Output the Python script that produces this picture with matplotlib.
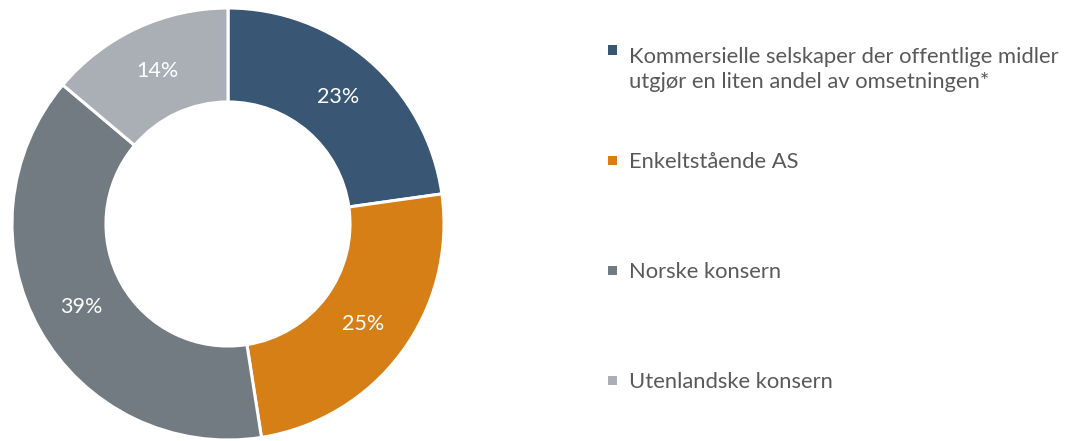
import matplotlib
matplotlib.use("Agg")
import matplotlib.pyplot as plt
from matplotlib.patches import Rectangle
import numpy as np

plt.rcParams['font.family'] = ['Lato', 'DejaVu Sans']

# data
categories = ['Kommersielle selskaper der offentlige midler\nutgjør en liten andel av omsetningen*',
              'Enkeltstående AS',
              'Norske konsern',
              'Utenlandske konsern']
shares = [23, 25, 39, 14]
pct_labels = ['23%', '25%', '39%', '14%']
colors = ['#3A5675', '#D67F17', '#727A82', '#A9AFB5']

W, H = 1072, 441
fig = plt.figure(figsize=(W / 100, H / 100), dpi=100)

# donut, centre ~(228,224) px, radius 216 px
ax = fig.add_axes([12 / W, 1 / H, 432 / W, 432 / H])
wedges, _ = ax.pie(shares, colors=colors, startangle=90, counterclock=False,
                   radius=1.0, wedgeprops=dict(width=0.435, edgecolor='white', linewidth=2.2))
for w in wedges:
    w.set_clip_on(False)
ax.set_xlim(-1, 1)
ax.set_ylim(-1, 1)
ax.set_aspect('equal')
ax.axis('off')

# percent labels in the middle of the ring
total = sum(shares)
start = 90.0
for v, lab in zip(shares, pct_labels):
    ang = np.deg2rad(start - 360 * v / total / 2)
    r = 0.78
    ax.text(r * np.cos(ang), r * np.sin(ang), lab, color='white', fontsize=15.5,
            ha='center', va='center')
    start -= 360 * v / total

# legend drawn by hand (marker y, baseline y of last line)
leg_y = [50, 160, 270, 380]
base_y = [88, 168, 278, 388]
for y, by, lab, c in zip(leg_y, base_y, categories, colors):
    fig.patches.append(Rectangle((608 / W, 1 - (y + 4.5) / H), 9 / W, 9 / H,
                                 transform=fig.transFigure, facecolor=c, edgecolor='none'))
    fig.text(629 / W, 1 - by / H, lab, fontsize=15.8, color='#595959',
             ha='left', va='baseline', linespacing=1.3)

fig.savefig('out.png', dpi=100, facecolor='white')
